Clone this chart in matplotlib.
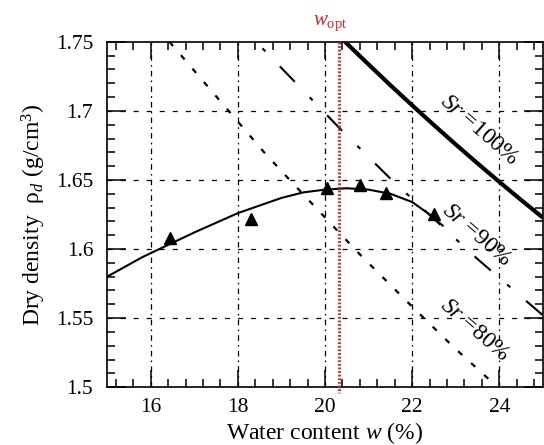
import matplotlib
matplotlib.use("Agg")
import matplotlib.pyplot as plt
from matplotlib.ticker import MultipleLocator

plt.rcParams["font.family"] = ["Liberation Serif", "DejaVu Serif"]
plt.rcParams["mathtext.fontset"] = "custom"
plt.rcParams["mathtext.rm"] = "Liberation Serif"
plt.rcParams["mathtext.it"] = "Liberation Serif:italic"
plt.rcParams["lines.scale_dashes"] = False

# compaction test points (water content %, dry density g/cm3)
test_w = [16.44, 18.30, 20.04, 20.81, 21.40, 22.49]
test_rho = [1.608, 1.6215, 1.644, 1.6464, 1.6408, 1.6254]

# fitted compaction curve
curve_w = [15.0, 15.8, 17.0, 18.0, 19.0, 19.5, 20.0, 20.5, 21.0, 21.5, 22.0, 22.4, 22.7]
curve_rho = [1.580, 1.594, 1.612, 1.626, 1.637, 1.641, 1.643, 1.644, 1.643, 1.640, 1.634, 1.625, 1.617]

# saturation lines
sr100_w = [20.46, 21.0, 21.5, 22.0, 22.5, 23.0, 23.5, 24.0, 24.5, 25.0]
sr100_rho = [1.75, 1.7336, 1.7186, 1.704, 1.6897, 1.6757, 1.662, 1.6486, 1.6355, 1.6227]
sr90_w = [18.42, 18.97, 20.41, 21.53, 23.49, 25.0]
sr90_rho = [1.75, 1.732, 1.685, 1.65, 1.593, 1.552]
sr80_w = [16.43, 18.63, 19.19, 20.74, 21.88, 22.95, 23.96]
sr80_rho = [1.75, 1.669, 1.65, 1.598, 1.562, 1.529, 1.50]

w_opt = 20.32

fig = plt.figure(figsize=(5.44, 4.45), dpi=100)
ax = fig.add_axes([0.197, 0.130, 0.801, 0.776])

ax.set_xlim(15, 25)
ax.set_ylim(1.5, 1.75)

# grid
for x in [16, 18, 20, 22, 24]:
    ax.axvline(x, color="black", lw=0.9, linestyle=(0, (4, 3, 1.2, 3)), zorder=1)
for y in [1.55, 1.6, 1.65, 1.7]:
    ax.axhline(y, color="black", lw=0.9, linestyle=(0, (3.6, 5.8)), zorder=1)

ax.plot(sr100_w, sr100_rho, color="black", lw=3.0, solid_capstyle="butt", zorder=3)
ax.plot(sr90_w, sr90_rho, color="black", lw=1.5, linestyle=(24.5, (15.5, 15.5, 3, 15)), zorder=3)
ax.plot(sr80_w, sr80_rho, color="black", lw=1.6, linestyle=(0, (4, 8.7)), zorder=3)

ax.plot(curve_w, curve_rho, color="black", lw=1.5, zorder=4)
ax.plot(test_w, test_rho, linestyle="none", marker="^", ms=9, color="black", zorder=5)

ax.plot([w_opt, w_opt], [1.75, 1.496], color="#d02a2a", lw=2.2,
        linestyle=(0, (1.3, 1.3)), clip_on=False, zorder=6)
ax.text(w_opt - 0.2, 1.7625, r"$\mathit{w}_{\rm opt}$", color="#c62828", fontsize=15,
        ha="center", va="baseline")

ax.text(23.53, 1.686, r"$\mathit{Sr}$ =100%", rotation=-41, fontsize=17,
        ha="center", va="center", rotation_mode="anchor")
ax.text(23.49, 1.610, r"$\mathit{Sr}$ =90%", rotation=-41, fontsize=17,
        ha="center", va="center", rotation_mode="anchor")
ax.text(23.44, 1.541, r"$\mathit{Sr}$ =80%", rotation=-41, fontsize=17,
        ha="center", va="center", rotation_mode="anchor")

ax.xaxis.set_minor_locator(MultipleLocator(0.4))
ax.yaxis.set_minor_locator(MultipleLocator(0.01))
ax.set_yticks([1.5, 1.55, 1.6, 1.65, 1.7, 1.75])
ax.set_yticklabels(["1.5", "1.55", "1.6", "1.65", "1.7", "1.75"])
ax.set_xticks([16, 18, 20, 22, 24])
ax.tick_params(which="both", direction="in", top=True, right=True, width=1.1)
ax.tick_params(which="major", length=12, labelsize=15.5)
ax.tick_params(axis="y", which="major", length=14)
ax.tick_params(which="minor", length=5.5)
ax.tick_params(axis="x", pad=8)
ax.tick_params(axis="y", pad=10)
for s in ax.spines.values():
    s.set_linewidth(1.2)

ax.set_xlabel(r"Water content $\mathit{w}$ (%)", fontsize=17, labelpad=2)
ax.set_ylabel(r"Dry density  ρ$_{\mathit{d}}$ (g/cm$^3$)", fontsize=17, labelpad=6)

fig.savefig("out.png", dpi=100)
